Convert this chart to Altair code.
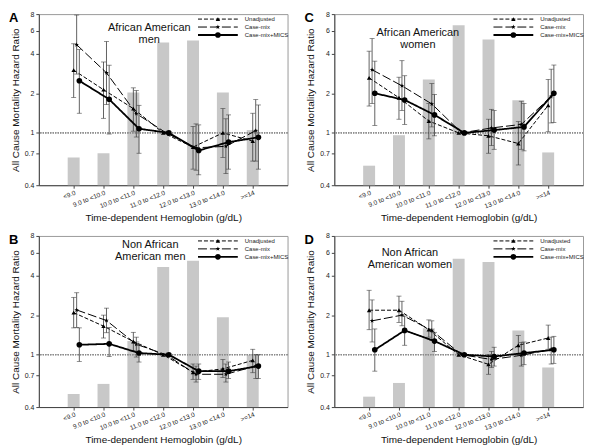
import json
import altair as alt
import pandas as pd

cats = ["<9.0", "9.0 to <10.0", "10.0 to <11.0", "11.0 to <12.0",
        "12.0 to <13.0", "13.0 to <14.0", ">=14"]
series = ["Unadjusted", "Case-mix", "Case-mix+MICS"]
y_ticks = [0.4, 0.7, 1, 2, 4, 6, 8]

# ---------- Panel A: African American men ----------
A_bars = [0.65, 0.70, 2.03, 4.87, 5.03, 2.03, 1.05]
A_unadj = [3.0, 2.13, 1.53, 1.0, 0.78, 1.0, 0.865]
A_unadj_lo = [1.86, 1.29, 1.03, None, 0.53, 0.65, 0.61]
A_unadj_hi = [4.76, 3.46, 2.2, None, 1.12, 1.53, 1.41]
A_case = [4.68, 2.86, 1.4, 1.0, 0.77, 0.79, 1.04]
A_case_lo = [2.8, 1.64, 0.93, None, 0.52, 0.49, 0.61]
A_case_hi = [7.87, 4.95, 2.1, None, 1.17, 1.28, 1.79]
A_mics = [2.49, 1.8, 1.075, 1.0, 0.735, 0.85, 0.925]
A_mics_lo = [1.41, 0.98, 0.7, None, 0.48, 0.53, 0.53]
A_mics_hi = [4.3, 3.27, 1.62, None, 1.15, 1.37, 1.63]

# ---------- Panel C: African American women ----------
C_bars = [0.563, 0.96, 2.55, 6.57, 5.13, 1.77, 0.71]
C_unadj = [2.62, 1.85, 1.23, 1.0, 0.95, 0.83, 1.62]
C_unadj_lo = [1.6, 1.27, 0.9, None, 0.7, 0.57, 1.02]
C_unadj_hi = [4.18, 2.65, 1.67, None, 1.27, 1.22, 2.55]
C_case = [3.02, 2.28, 1.66, 1.0, 1.09, 1.16, 1.89]
C_case_lo = [1.67, 1.48, 1.11, None, 0.8, 0.75, 1.19]
C_case_hi = [5.21, 3.54, 2.37, None, 1.51, 1.74, 3.05]
C_mics = [2.0, 1.78, 1.37, 1.0, 1.05, 1.11, 2.0]
C_mics_lo = [1.14, 1.16, 0.95, None, 0.75, 0.73, 1.2]
C_mics_hi = [3.51, 2.72, 1.96, None, 1.48, 1.67, 3.28]

# ---------- Panel B: Non African American men ----------
B_bars = [0.503, 0.6, 1.27, 4.65, 5.19, 1.93, 1.0]
B_unadj = [2.09, 1.65, 1.26, 1.0, 0.736, 0.78, 0.906]
B_unadj_lo = [1.6, 1.34, 1.07, None, 0.65, 0.67, 0.73]
B_unadj_hi = [2.73, 2.0, 1.48, None, 0.85, 0.92, 1.1]
B_case = [2.19, 1.82, 1.2, 1.0, 0.71, 0.71, 0.82]
B_case_lo = [1.61, 1.47, 0.96, None, 0.62, 0.62, 0.66]
B_case_hi = [2.96, 2.26, 1.36, None, 0.82, 0.85, 1.0]
B_mics = [1.19, 1.21, 1.03, 1.0, 0.75, 0.75, 0.82]
B_mics_lo = [0.89, 0.97, 0.88, None, 0.65, 0.66, 0.66]
B_mics_hi = [1.6, 1.61, 1.2, None, 0.85, 0.88, 1.0]

# ---------- Panel D: Non African American women ----------
D_bars = [0.48, 0.61, 1.59, 5.36, 5.07, 1.53, 0.8]
D_unadj = [2.18, 2.18, 1.55, 1.0, 0.845, 1.18, 1.34]
D_unadj_lo = [1.55, 1.76, 1.36, None, 0.71, 1.0, 1.1]
D_unadj_hi = [3.09, 2.79, 1.84, None, 1.0, 1.4, 1.68]
D_case = [1.81, 2.0, 1.53, 1.0, 0.92, 0.99, 1.1]
D_case_lo = [1.25, 1.66, 1.29, None, 0.8, 0.82, 0.85]
D_case_hi = [2.61, 2.55, 1.81, None, 1.06, 1.24, 1.36]
D_mics = [1.09, 1.53, 1.27, 1.0, 0.97, 1.03, 1.09]
D_mics_lo = [0.75, 1.18, 1.06, None, 0.82, 0.84, 0.86]
D_mics_hi = [1.57, 1.97, 1.48, None, 1.14, 1.25, 1.38]

W, H = 250, 172
FONT = "Liberation Sans"
STAR = ("M0,-1L0.23,-0.32L0.95,-0.31L0.37,0.12L0.59,0.81L0,0.39L-0.59,0.81"
        "L-0.37,0.12L-0.95,-0.31L-0.23,-0.32Z")

styles = {
    "Unadjusted": dict(dash=[4, 2], width=1.0, shape="triangle-up", size=20, off=0.0),
    "Case-mix": dict(dash=[9, 3], width=1.0, shape=STAR, size=24, off=0.1),
    "Case-mix+MICS": dict(dash=[1, 0], width=1.8, shape="circle", size=32, off=0.19),
}

label_expr = "%s[datum.value - 1]" % json.dumps(cats)

x_scale = alt.Scale(domain=[0, 8], nice=False, zero=False)
y_scale = alt.Scale(type="log", domain=[0.4, 8], nice=False)
x_axis = alt.Axis(values=list(range(1, 8)), labelExpr=label_expr, labelAngle=-22,
                  labelFontSize=6.5, labelAlign="right", labelBaseline="top",
                  labelOverlap=False, labelFlush=False,
                  title="Time-dependent Hemoglobin (g/dL)", titleFontSize=10,
                  titleFontWeight="normal", grid=False, tickSize=3,
                  labelPadding=1, titlePadding=3)
y_axis = alt.Axis(values=y_ticks, format="~g", labelFontSize=7,
                  title="All Cause Mortality Hazard Ratio", titleFontSize=10,
                  titleFontWeight="normal", grid=False, tickSize=3, titlePadding=4)


def make_panel(letter, title_lines, title_x, title_y, bars, vals):
    bar_df = pd.DataFrame({"pos": list(range(1, 8)), "val": bars})
    layers = []
    layers.append(
        alt.Chart(bar_df).mark_bar(color="#c8c8c8", size=12).encode(
            x=alt.X("pos:Q", scale=x_scale, axis=x_axis),
            y=alt.Y("val:Q", scale=y_scale, axis=y_axis),
            y2=alt.datum(0.4),
        )
    )
    layers.append(
        alt.Chart(bar_df).mark_rule(color="#8a8a8a", strokeDash=[1, 1.5], strokeWidth=0.7)
        .encode(y=alt.datum(1))
    )
    for s in series:
        v, lo, hi = vals[s]
        st = styles[s]
        df = pd.DataFrame({
            "pos": [i + 1 + st["off"] for i in range(7)],
            "val": v, "lo": lo, "hi": hi,
        })
        eb = df.dropna()
        layers.append(
            alt.Chart(eb).mark_rule(color="#3a3a3a", strokeWidth=0.8).encode(
                x="pos:Q", y="lo:Q", y2="hi:Q")
        )
        for col in ["lo", "hi"]:
            layers.append(
                alt.Chart(eb).mark_tick(color="#3a3a3a", orient="horizontal",
                                        size=5, thickness=0.8).encode(
                    x="pos:Q", y=alt.Y(col + ":Q"))
            )
        layers.append(
            alt.Chart(df).mark_line(color="black", strokeDash=st["dash"],
                                    strokeWidth=st["width"]).encode(
                x="pos:Q", y="val:Q")
        )
        layers.append(
            alt.Chart(df).mark_point(filled=True, color="black", opacity=1,
                                     shape=st["shape"], size=st["size"]).encode(
                x="pos:Q", y="val:Q")
        )
    # legend
    for i, s in enumerate(series):
        st = styles[s]
        ldf = pd.DataFrame({"name": [s]})
        yy = 5 + 8 * i
        layers.append(
            alt.Chart(ldf).mark_rule(color="black", strokeDash=st["dash"],
                                     strokeWidth=st["width"]).encode(
                x=alt.value(160), x2=alt.value(200), y=alt.value(yy))
        )
        layers.append(
            alt.Chart(ldf).mark_point(filled=True, color="black", opacity=1,
                                      shape=st["shape"], size=st["size"]).encode(
                x=alt.value(180), y=alt.value(yy))
        )
        layers.append(
            alt.Chart(ldf).mark_text(align="left", baseline="middle", fontSize=6,
                                     color="#222").encode(
                x=alt.value(207), y=alt.value(yy), text="name:N")
        )
    # panel title
    for k, t in enumerate(title_lines):
        layers.append(
            alt.Chart(pd.DataFrame({"t": [t]})).mark_text(
                align="center", baseline="middle", fontSize=11, color="#111").encode(
                x=alt.value(title_x), y=alt.value(title_y + 12 * k), text="t:N")
        )
    layers.append(
        alt.Chart(pd.DataFrame({"t": [letter]})).mark_text(
            align="left", baseline="top", fontSize=13, fontWeight="bold",
            color="black").encode(x=alt.value(-30), y=alt.value(-2), text="t:N")
    )
    return alt.layer(*layers).properties(width=W, height=H)


def pack(u, ul, uh, c, cl, ch, m, ml, mh):
    return {"Unadjusted": (u, ul, uh), "Case-mix": (c, cl, ch),
            "Case-mix+MICS": (m, ml, mh)}


pA = make_panel("A", ["African American", "men"], 111, 14, A_bars,
                pack(A_unadj, A_unadj_lo, A_unadj_hi, A_case, A_case_lo, A_case_hi,
                     A_mics, A_mics_lo, A_mics_hi))
pC = make_panel("C", ["African American", "women"], 84, 19, C_bars,
                pack(C_unadj, C_unadj_lo, C_unadj_hi, C_case, C_case_lo, C_case_hi,
                     C_mics, C_mics_lo, C_mics_hi))
pB = make_panel("B", ["Non African", "American men"], 112, 9, B_bars,
                pack(B_unadj, B_unadj_lo, B_unadj_hi, B_case, B_case_lo, B_case_hi,
                     B_mics, B_mics_lo, B_mics_hi))
pD = make_panel("D", ["Non African", "American women"], 76, 17, D_bars,
                pack(D_unadj, D_unadj_lo, D_unadj_hi, D_case, D_case_lo, D_case_hi,
                     D_mics, D_mics_lo, D_mics_hi))

chart = alt.vconcat(
    alt.hconcat(pA, pC, spacing=14),
    alt.hconcat(pB, pD, spacing=14),
    spacing=8,
).properties(padding=0).configure(font=FONT).configure_view(
    stroke="#9a9a9a", strokeWidth=1
).configure_axis(
    domainColor="#444", tickColor="#444", labelColor="#222", titleColor="#111"
)

chart.save("out.html", embed_options={"renderer": "svg", "actions": False})
